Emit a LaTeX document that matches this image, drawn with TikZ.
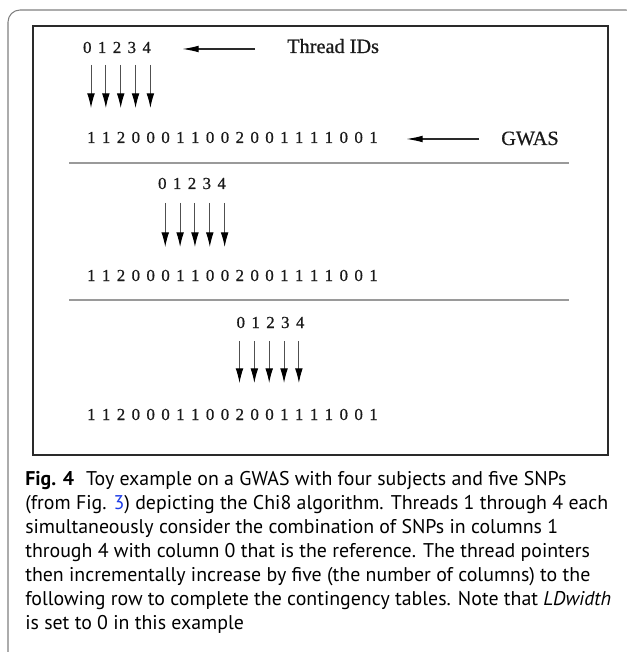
\documentclass[tikz,border=0pt]{standalone}
\usepackage{fontspec}
\setmainfont{Liberation Serif}
\newfontfamily\figfont[FakeBold=0.7]{Liberation Serif}
\newfontfamily\capfont{PT Sans}
\usetikzlibrary{arrows.meta}
\definecolor{framegray}{HTML}{7F7F7F}
\definecolor{boxline}{HTML}{2A2A2A}
\definecolor{sepgray}{HTML}{9A9A9A}
\definecolor{shaftgray}{HTML}{505050}
\definecolor{linkblue}{RGB}{30,60,230}
\definecolor{figtext}{HTML}{1A1A1A}
\newlength\pitch
\setlength\pitch{11.14pt}
\def\digs#1{\ifx#1\relax\else\makebox[\pitch]{#1}\expandafter\digs\fi}
\tikzset{
  dig/.style={inner sep=0pt, anchor=base west, text=figtext, font=\figfont\fontsize{12.6pt}{14pt}\selectfont},
  lab/.style={inner sep=0pt, anchor=base west, text=figtext, font=\figfont\fontsize{15.2pt}{17pt}\selectfont},
  capt/.style={inner sep=0pt, anchor=base west, font=\capfont\fontsize{14.9pt}{18pt}\selectfont},
  varrow/.style={draw=shaftgray, line width=0.75pt, -{Latex[length=11pt,width=5.8pt,color=black]}},
  harrow/.style={draw=boxline, line width=1pt, -{Latex[length=12.5pt,width=5pt,color=black]}},
  sepline/.style={draw=sepgray, line width=1pt},
}
\begin{document}
\begin{tikzpicture}[x=0.75pt,y=-0.75pt]
\useasboundingbox (0,0) rectangle (627,652);
\clip (0,0) rectangle (627,652);
% outer frame
\draw[framegray, line width=0.8pt, rounded corners=9pt] (8,670) -- (8,10) -- (638,10) -- (638,670);
% inner box
\draw[boxline, line width=1pt] (33,26) rectangle (608,455);
% separators
\draw[sepline] (69,163) -- (569,163);
\draw[sepline] (69,300) -- (569,300);
% row 1
\node[dig] (ids1) at (79.6,53) {\digs 01234\relax};
\node[lab] (thr) at (287,53) {Thread IDs};
\coordinate (h1s) at (255,49);
\coordinate (h1e) at (182,49);
\draw[harrow] (h1s) -- (h1e);
\foreach \k in {0,...,4}{
  \coordinate (a1s\k) at ({91+14.85*\k},65);
  \coordinate (a1e\k) at ({91+14.85*\k},108);
  \draw[varrow] (a1s\k) -- (a1e\k);
}
\node[dig] (g1) at (83.6,143) {\digs 11200011002001111001\relax};
\node[lab] (gw) at (501,145) {GWAS};
\coordinate (h2s) at (479,139);
\coordinate (h2e) at (406,139);
\draw[harrow] (h2s) -- (h2e);
% row 2
\node[dig] (ids2) at (154.6,189) {\digs 01234\relax};
\foreach \k in {5,...,9}{
  \coordinate (a2s\k) at ({91+14.85*\k},203);
  \coordinate (a2e\k) at ({91+14.85*\k},247);
  \draw[varrow] (a2s\k) -- (a2e\k);
}
\node[dig] (g2) at (83.6,281) {\digs 11200011002001111001\relax};
% row 3
\node[dig] (ids3) at (233.1,328) {\digs 01234\relax};
\foreach \k in {10,...,14}{
  \coordinate (a3s\k) at ({91+14.85*\k},341);
  \coordinate (a3e\k) at ({91+14.85*\k},383);
  \draw[varrow] (a3s\k) -- (a3e\k);
}
\node[dig] (g3) at (83.6,420) {\digs 11200011002001111001\relax};
% caption
\node[capt] (c1) at (25,485) {\textbf{Fig. 4}\hspace{0.6em}Toy example on a GWAS with four subjects and five SNPs};
\node[capt] (c2) at (25,509) {(from Fig. \textcolor{linkblue}{3}) depicting the Chi8 algorithm. Threads 1 through 4 each};
\node[capt] (c3) at (25,533) {simultaneously consider the combination of SNPs in columns 1};
\node[capt] (c4) at (25,557) {through 4 with column 0 that is the reference. The thread pointers};
\node[capt] (c5) at (25,581) {then incrementally increase by five (the number of columns) to the};
\node[capt] (c6) at (25,605) {following row to complete the contingency tables. Note that \textit{LDwidth}};
\node[capt] (c7) at (25,629) {is set to 0 in this example};
\end{tikzpicture}
\end{document}
